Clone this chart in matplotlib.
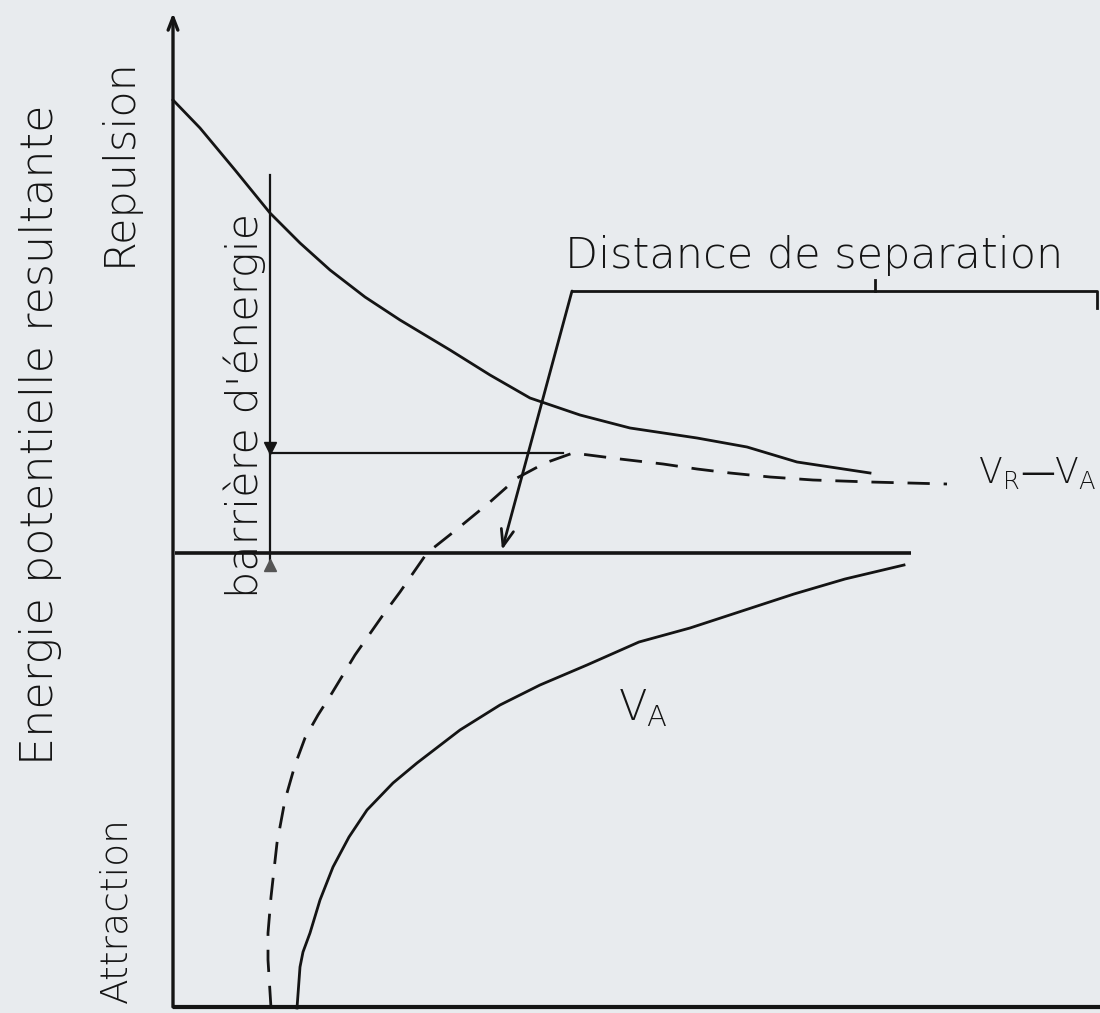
import matplotlib
matplotlib.use("Agg")
import matplotlib.pyplot as plt
import numpy as np

plt.rcParams['lines.scale_dashes'] = False
plt.rcParams['font.family'] = ['DejaVu Sans']

INK = '#141414'
PAPER = '#e8ebee'

# Separation distance (arbitrary units) and energies for the three curves
rep_x = [0.00, 0.27, 0.62, 0.97, 1.27, 1.57, 1.92, 2.27, 2.77, 3.17, 3.57, 4.07, 4.57,
         5.24, 5.74, 6.24, 6.97]
rep_y = [4.53, 4.25, 3.83, 3.40, 3.10, 2.83, 2.56, 2.33, 2.03, 1.78, 1.55, 1.38, 1.25,
         1.15, 1.06, 0.91, 0.80]

tot_x = [0.98, 0.95, 0.95, 0.98, 1.04, 1.12, 1.22, 1.32, 1.45, 1.59, 1.82, 2.10, 2.27,
         2.54, 2.83, 3.17, 3.44, 3.72, 4.00, 4.47, 4.90, 5.24, 5.57, 5.97, 6.40, 6.97, 7.74]
tot_y = [-4.55, -4.07, -3.80, -3.44, -2.90, -2.47, -2.12, -1.85, -1.62, -1.40, -1.02,
         -0.62, -0.39, 0.00, 0.23, 0.51, 0.75, 0.90, 1.00, 0.94, 0.89, 0.84, 0.80, 0.76,
         0.73, 0.71, 0.69]

att_x = [1.24, 1.27, 1.30, 1.37, 1.47, 1.60, 1.76, 1.94, 2.20, 2.44, 2.87, 3.27, 3.67,
         4.14, 4.66, 5.17, 5.69, 6.21, 6.72, 7.31]
att_y = [-4.55, -4.14, -3.99, -3.80, -3.47, -3.14, -2.84, -2.57, -2.30, -2.10, -1.77,
         -1.52, -1.32, -1.12, -0.89, -0.75, -0.58, -0.41, -0.26, -0.12]

fig = plt.figure(figsize=(11.0, 10.13), dpi=100, facecolor=PAPER)
ax = fig.add_axes([0, 0, 1, 1])
ax.set_facecolor(PAPER)
ax.set_xlim(-1.73, 9.27)
ax.set_ylim(-4.60, 5.53)
ax.axis('off')

y_bottom = -4.54

# Axes of the diagram
ax.annotate('', xy=(0, 5.40), xytext=(0, y_bottom),
            arrowprops=dict(arrowstyle='->,head_length=0.9,head_width=0.35',
                            color=INK, lw=2.4, shrinkA=0, shrinkB=0))
ax.plot([0, 9.4], [y_bottom, y_bottom], color=INK, lw=3.0, solid_capstyle='butt')
ax.plot([0.02, 7.38], [0, 0], color=INK, lw=2.6, solid_capstyle='butt')

# Curves
ax.plot(rep_x, rep_y, color=INK, lw=2.0)
ax.plot(att_x, att_y, color=INK, lw=2.0)
ax.plot(tot_x, tot_y, color=INK, lw=2.0, linestyle=(0, (16, 10)))

# Energy barrier: from zero line up to the maximum of the total curve
i_peak = int(np.argmax(tot_y))
barrier = tot_y[i_peak]
xb = 0.97
ax.plot([xb, xb], [-0.08, 3.78], color=INK, lw=1.6)
ax.plot([xb, tot_x[i_peak] - 0.1], [barrier, barrier], color=INK, lw=1.6)
ax.plot([xb], [barrier + 0.05], marker='v', color=INK, markersize=9)
ax.plot([xb], [-0.12], marker='^', color='#555555', markersize=9)

# Bracket marking the separation distance
ax.plot([3.99, 9.24, 9.24], [2.62, 2.62, 2.45], color=INK, lw=2.0)
ax.plot([7.02, 7.02], [2.62, 2.73], color=INK, lw=2.0)
ax.annotate('', xy=(3.29, 0.03), xytext=(3.99, 2.62),
            arrowprops=dict(arrowstyle='->,head_length=1.2,head_width=0.45',
                            color=INK, lw=2.0, shrinkA=0, shrinkB=0))

txt = dict(color=INK, fontweight='light')
ax.text(3.92, 2.85, 'Distance de separation', ha='left', va='baseline', fontsize=31, **txt)
ax.text(-1.33, 1.18, 'Energie potentielle resultante', rotation=90,
        ha='center', va='center', fontsize=32, **txt)
ax.text(-0.55, 3.91, 'Repulsion', rotation=90, ha='center', va='center', fontsize=31, **txt)
ax.text(-0.57, -3.57, 'Attraction', rotation=90, ha='center', va='center', fontsize=27, **txt)
ax.text(0.72, 1.48, "barrière d'énergie", rotation=90, ha='center', va='center',
        fontsize=31, **txt)
ax.text(8.05, 0.70, r'V$_\mathregular{R}$—V$_\mathregular{A}$', ha='left', va='baseline',
        fontsize=25, **txt)
ax.text(4.45, -1.67, r'V$_\mathregular{A}$', ha='left', va='baseline', fontsize=30, **txt)

fig.savefig('out.png', dpi=100, facecolor=PAPER)
